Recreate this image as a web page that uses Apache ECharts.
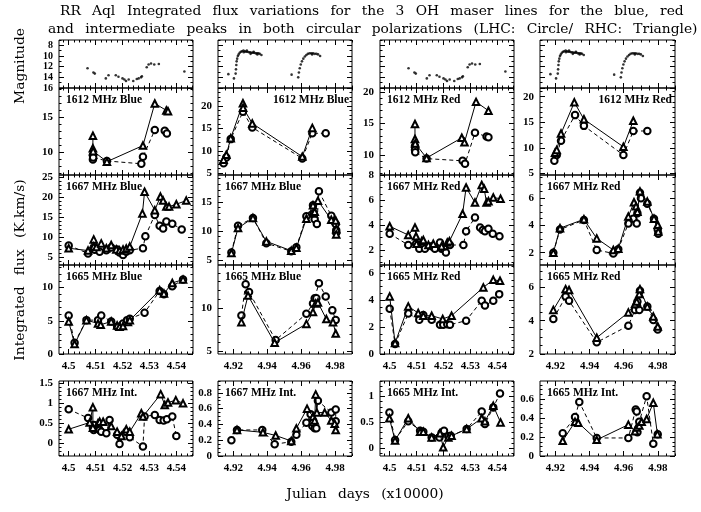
<!DOCTYPE html>
<html><head><meta charset="utf-8">
<script src="https://cdn.jsdelivr.net/npm/echarts@6/dist/echarts.min.js"></script>
<style>html,body{margin:0;padding:0;background:#fff}#c{width:701px;height:512px}</style>
</head><body><div id="c"></div>
<script>
// ---------------- DATA ----------------
const xLabelsA = [4.5, 4.51, 4.52, 4.53, 4.54];
const xLabelsB = [4.92, 4.94, 4.96, 4.98];

// V magnitude (epoch A: JD/1e4 4.50-4.54, epoch B: 4.92-4.98)
const magA = [[4.5070,12.3],[4.5092,13.1],[4.5097,13.3],[4.5138,14.2],[4.5148,13.6],[4.5175,13.6],[4.5185,13.9],[4.5200,14.2],[4.5207,14.4],[4.5213,14.7],[4.5223,14.4],[4.5240,14.7],[4.5253,14.3],[4.5260,14.2],[4.5269,14.0],[4.5272,13.8],[4.5290,12.1],[4.5297,11.6],[4.5306,11.4],[4.5318,11.6],[4.5335,11.5],[4.5430,12.9]];
const magB = [[4.9171,13.4],[4.9204,14.2],[4.9214,13.3],[4.9216,12.5],[4.9218,11.7],[4.9220,11.0],[4.9223,10.5],[4.9227,10.0],[4.9232,9.7],[4.9238,9.4],[4.9245,9.2],[4.9252,9.1],[4.9260,9.0],[4.9262,9.3],[4.9268,9.1],[4.9276,9.2],[4.9280,9.0],[4.9284,9.2],[4.9292,9.3],[4.9300,9.3],[4.9302,9.6],[4.9308,9.4],[4.9316,9.4],[4.9320,9.2],[4.9324,9.4],[4.9332,9.5],[4.9340,9.5],[4.9342,9.7],[4.9348,9.5],[4.9356,9.6],[4.9366,9.8],
  [4.9544,13.5],[4.9583,14.0],[4.9587,13.1],[4.9592,12.3],[4.9598,11.6],[4.9605,11.0],[4.9613,10.5],[4.9622,10.1],[4.9631,9.8],[4.9640,9.6],[4.9650,9.5],[4.9660,9.5],[4.9665,9.7],[4.9670,9.5],[4.9680,9.6],[4.9690,9.6],[4.9700,9.7],[4.9712,10.0]];

// 1612 MHz
const f1612BlueA_lhc = [[4.5090,9.6],[4.5090,9.0],[4.5091,9.3],[4.5142,8.8],[4.5270,8.4],[4.5276,9.4],[4.5320,13.2],[4.5357,13.1],[4.5365,12.7]];
const f1612BlueA_rhc = [[4.5090,12.4],[4.5090,10.6],[4.5091,10.2],[4.5142,8.7],[4.5276,11.0],[4.5320,17.0],[4.5363,16.0],[4.5369,15.9]];
const f1612BlueB_lhc = [[4.9143,7.2],[4.9159,8.5],[4.9185,12.6],[4.9257,18.7],[4.9312,15.2],[4.9607,8.3],[4.9666,13.9],[4.9745,13.9]];
const f1612BlueB_rhc = [[4.9143,8.0],[4.9159,9.1],[4.9185,12.8],[4.9257,20.6],[4.9258,19.6],[4.9312,16.1],[4.9607,8.7],[4.9666,15.1]];
const f1612RedA_lhc = [[4.5094,11.4],[4.5094,10.8],[4.5095,10.4],[4.5137,9.4],[4.5271,9.05],[4.5280,8.6],[4.5317,13.5],[4.5360,12.9],[4.5367,12.8]];
const f1612RedA_rhc = [[4.5094,14.9],[4.5094,12.5],[4.5095,11.8],[4.5137,9.5],[4.5268,12.7],[4.5278,12.0],[4.5321,18.4],[4.5367,17.0]];
const f1612RedB_lhc = [[4.9194,7.5],[4.9208,8.6],[4.9233,11.4],[4.9315,16.4],[4.9367,14.3],[4.9598,8.6],[4.9656,13.3],[4.9738,13.3]];
const f1612RedB_rhc = [[4.9198,9.05],[4.9208,9.6],[4.9233,12.8],[4.9311,18.9],[4.9367,15.6],[4.9598,10.2],[4.9656,15.3]];

// 1667 MHz
const f1667BlueA_lhc = [[4.5000,8.0],[4.5072,6.0],[4.5095,7.5],[4.5097,6.9],[4.5115,6.4],[4.5140,6.8],[4.5158,7.5],[4.5180,7.0],[4.5189,6.2],[4.5202,5.6],[4.5214,6.4],[4.5227,6.8],[4.5276,7.3],[4.5285,10.3],[4.5320,15.6],[4.5338,12.9],[4.5351,12.2],[4.5363,14.0],[4.5385,13.4],[4.5420,12.0]];
const f1667BlueA_rhc = [[4.5000,7.3],[4.5072,6.7],[4.5093,9.5],[4.5093,7.7],[4.5103,7.6],[4.5121,8.5],[4.5140,7.3],[4.5158,8.1],[4.5177,7.0],[4.5189,6.7],[4.5202,7.0],[4.5214,7.2],[4.5227,7.7],[4.5274,16.0],[4.5282,21.4],[4.5320,16.8],[4.5341,20.2],[4.5351,19.2],[4.5363,17.7],[4.5373,17.7],[4.5400,18.3],[4.5437,19.2]];
const f1667BlueB_lhc = [[4.9189,6.3],[4.9228,10.9],[4.9316,12.2],[4.9395,7.9],[4.9542,6.5],[4.9572,7.2],[4.9631,12.5],[4.9670,14.4],[4.9674,13.0],[4.9680,12.0],[4.9693,11.2],[4.9705,16.8],[4.9778,12.6],[4.9804,11.2],[4.9807,10.1],[4.9807,9.7]];
const f1667BlueB_rhc = [[4.9189,6.2],[4.9228,10.5],[4.9316,12.2],[4.9395,8.2],[4.9542,6.6],[4.9572,7.1],[4.9631,12.1],[4.9670,14.4],[4.9674,13.0],[4.9680,13.3],[4.9699,15.2],[4.9778,11.9],[4.9804,11.8],[4.9807,10.3],[4.9807,9.4]];
const f1667RedA_lhc = [[4.5000,3.3],[4.5069,2.4],[4.5098,2.5],[4.5110,2.1],[4.5131,2.1],[4.5156,2.3],[4.5168,2.1],[4.5187,2.6],[4.5193,2.1],[4.5202,2.1],[4.5209,1.8],[4.5224,2.4],[4.5274,2.4],[4.5284,3.5],[4.5317,4.6],[4.5336,3.8],[4.5346,3.6],[4.5354,3.5],[4.5367,3.7],[4.5383,3.3],[4.5408,3.1]];
const f1667RedA_rhc = [[4.5000,3.9],[4.5069,3.2],[4.5094,3.8],[4.5098,3.1],[4.5100,2.5],[4.5119,2.7],[4.5125,2.8],[4.5144,2.4],[4.5162,2.5],[4.5193,2.3],[4.5214,2.6],[4.5222,2.7],[4.5271,4.9],[4.5284,7.0],[4.5317,5.8],[4.5342,7.2],[4.5351,6.9],[4.5360,5.8],[4.5367,5.9],[4.5385,6.2],[4.5412,6.1]];
const f1667RedB_lhc = [[4.9188,2.0],[4.9227,3.7],[4.9367,4.4],[4.9442,2.2],[4.9539,1.95],[4.9568,2.25],[4.9627,4.15],[4.9656,4.5],[4.9676,4.15],[4.9680,4.9],[4.9695,6.4],[4.9701,6.0],[4.9738,5.6],[4.9777,4.5],[4.9799,3.7],[4.9802,3.4]];
const f1667RedB_rhc = [[4.9188,2.0],[4.9227,3.8],[4.9367,4.45],[4.9442,3.05],[4.9539,2.2],[4.9568,2.3],[4.9627,4.65],[4.9660,5.7],[4.9672,5.4],[4.9680,5.0],[4.9695,6.5],[4.9738,5.75],[4.9777,4.5],[4.9799,4.05],[4.9802,3.55]];

// 1665 MHz
const f1665BlueA_lhc = [[4.5000,5.8],[4.5022,1.7],[4.5066,5.1],[4.5109,5.1],[4.5121,5.8],[4.5158,4.9],[4.5180,4.1],[4.5189,4.1],[4.5202,4.6],[4.5217,5.1],[4.5227,5.3],[4.5282,6.2],[4.5338,9.5],[4.5354,9.0],[4.5385,10.2],[4.5425,11.2]];
const f1665BlueA_rhc = [[4.5000,4.9],[4.5022,1.5],[4.5066,5.1],[4.5109,4.6],[4.5119,4.4],[4.5158,4.9],[4.5180,4.3],[4.5189,4.1],[4.5202,4.2],[4.5220,4.8],[4.5227,5.1],[4.5338,9.6],[4.5354,9.1],[4.5385,10.7],[4.5425,11.2]];
const f1665BlueB_lhc = [[4.9248,9.1],[4.9273,12.7],[4.9293,11.8],[4.9450,6.3],[4.9631,9.3],[4.9670,10.5],[4.9680,11.1],[4.9690,11.1],[4.9705,12.8],[4.9745,11.3],[4.9784,9.7],[4.9804,8.6]];
const f1665BlueB_rhc = [[4.9248,8.35],[4.9287,11.4],[4.9444,6.0],[4.9631,8.15],[4.9670,9.5],[4.9686,10.5],[4.9699,10.6],[4.9749,8.7],[4.9788,8.35],[4.9804,7.05]];
const f1665RedA_lhc = [[4.5000,3.36],[4.5020,0.74],[4.5069,3.0],[4.5110,2.54],[4.5125,2.9],[4.5156,2.54],[4.5187,2.17],[4.5199,2.17],[4.5214,2.2],[4.5224,2.17],[4.5284,2.47],[4.5342,3.95],[4.5354,3.6],[4.5385,3.95],[4.5407,4.44]];
const f1665RedA_rhc = [[4.5000,4.27],[4.5020,0.81],[4.5069,3.53],[4.5106,3.04],[4.5125,2.84],[4.5156,2.84],[4.5197,2.6],[4.5230,2.84],[4.5348,4.94],[4.5385,5.5],[4.5410,5.43]];
const f1665RedB_lhc = [[4.9188,4.1],[4.9260,5.45],[4.9280,5.2],[4.9442,2.7],[4.9627,3.7],[4.9666,4.65],[4.9676,4.95],[4.9680,5.15],[4.9691,4.65],[4.9695,5.8],[4.9738,4.85],[4.9773,4.05],[4.9799,3.47]];
const f1665RedB_rhc = [[4.9188,4.65],[4.9260,5.9],[4.9280,5.85],[4.9442,2.98],[4.9627,4.5],[4.9666,5.0],[4.9676,5.15],[4.9691,5.6],[4.9695,5.9],[4.9738,4.85],[4.9773,4.25],[4.9799,3.65]];

// Intermediate peaks
const i1667A_lhc = [[4.5000,0.85],[4.5072,0.63],[4.5090,0.38],[4.5093,0.33],[4.5094,0.46],[4.5115,0.33],[4.5121,0.29],[4.5140,0.25],[4.5152,0.58],[4.5180,0.21],[4.5189,-0.02],[4.5214,0.29],[4.5227,0.15],[4.5276,-0.08],[4.5282,0.67],[4.5320,0.71],[4.5338,0.58],[4.5353,0.57],[4.5365,0.6],[4.5385,0.67],[4.5400,0.18]];
const i1667A_rhc = [[4.5000,0.35],[4.5078,0.52],[4.5090,0.9],[4.5090,0.39],[4.5109,0.5],[4.5115,0.54],[4.5128,0.54],[4.5158,0.43],[4.5180,0.29],[4.5196,0.18],[4.5214,0.35],[4.5227,0.29],[4.5270,0.75],[4.5276,0.67],[4.5342,1.23],[4.5357,0.96],[4.5369,1.02],[4.5398,1.08],[4.5425,1.0]];
const i1667B_lhc = [[4.9189,0.2],[4.9222,0.33],[4.9371,0.33],[4.9444,0.15],[4.9542,0.18],[4.9572,0.27],[4.9631,0.42],[4.9656,0.53],[4.9666,0.38],[4.9670,0.42],[4.9680,0.35],[4.9690,0.35],[4.9699,0.7],[4.9778,0.55],[4.9804,0.59],[4.9804,0.44]];
const i1667B_rhc = [[4.9222,0.33],[4.9375,0.3],[4.9450,0.26],[4.9542,0.19],[4.9572,0.35],[4.9635,0.6],[4.9670,0.5],[4.9680,0.45],[4.9686,0.78],[4.9693,0.55],[4.9739,0.55],[4.9778,0.45],[4.9798,0.41],[4.9804,0.33]];
const i1665A_lhc = [[4.4999,0.69],[4.5020,0.16],[4.5069,0.52],[4.5113,0.34],[4.5125,0.32],[4.5156,0.21],[4.5185,0.21],[4.5193,0.3],[4.5202,0.34],[4.5218,0.23],[4.5227,0.24],[4.5286,0.37],[4.5342,0.71],[4.5354,0.47],[4.5385,0.79],[4.5410,1.06]];
const i1665A_rhc = [[4.4999,0.58],[4.5020,0.15],[4.5069,0.58],[4.5113,0.32],[4.5125,0.32],[4.5156,0.21],[4.5187,0.29],[4.5199,0.02],[4.5218,0.21],[4.5230,0.24],[4.5286,0.37],[4.5342,0.58],[4.5354,0.52],[4.5385,0.82],[4.5412,0.5]];
const i1665B_lhc = [[4.9243,0.24],[4.9315,0.41],[4.9340,0.57],[4.9442,0.19],[4.9627,0.19],[4.9670,0.49],[4.9676,0.47],[4.9680,0.25],[4.9691,0.36],[4.9734,0.63],[4.9773,0.13],[4.9799,0.23]];
const i1665B_rhc = [[4.9243,0.16],[4.9315,0.36],[4.9334,0.35],[4.9442,0.17],[4.9627,0.33],[4.9666,0.26],[4.9676,0.3],[4.9691,0.32],[4.9705,0.36],[4.9734,0.39],[4.9773,0.56],[4.9797,0.23]];

// y tick labels per panel
const yLabMag = [8, 10, 12, 14, 16];
const yLab = {
  r1: [[10,15],[5,10,15,20],[10,15,20],[5,10,15,20]],
  r2: [[5,10,15,20,25],[5,10,15],[2,4,6,8],[2,4,6]],
  r3: [[0,5,10],[5,10],[0,2,4,6],[2,4,6]],
  r4: [[0,0.5,1,1.5],[0,0.2,0.4,0.6,0.8],[0,0.5,1],[0,0.2,0.4,0.6]]
};

// ---------------- LAYOUT / STYLE ----------------
const COLS = [[59,193],[218,352],[380,514],[540,675]];
const ROWS = [[40,88],[88,175],[175,265],[265,354],[381,456]];
const XR = [
  {min:4.4964, max:4.5462, major:0.01, minor:0.002, labels:xLabelsA},
  {min:4.911,  max:4.990,  major:0.02, minor:0.005, labels:xLabelsB}
];
const FONT = 'Liberation Serif';
const BIG = 'DejaVu Serif';

function rng(min, max, step){
  const out=[]; const s=Math.ceil(min/step-1e-9);
  for(let k=s; k*step<=max+1e-9; k++) out.push(+(k*step).toFixed(6));
  return out;
}
const fmt = v => String(+(+v).toFixed(4));

const panels = [];
for(let c=0;c<4;c++) panels.push({row:0,col:c,ymin:7,ymax:16,major:2,minor:1,inv:true,split:true,fs:10,
  labels:c===0?yLabMag:null,mag:(c%2===0)?magA:magB});
const rowDefs = [
  {row:1, names:['1612 MHz Blue','1612 MHz Blue','1612 MHz Red','1612 MHz Red'], rightLab:[false,true,false,true],
   rng:[[6.8,19.2,5,1],[4.6,24,5,1],[6.8,20.6,5,1],[4.7,21.7,5,1]], labs:yLab.r1,
   data:[[f1612BlueA_lhc,f1612BlueA_rhc],[f1612BlueB_lhc,f1612BlueB_rhc],[f1612RedA_lhc,f1612RedA_rhc],[f1612RedB_lhc,f1612RedB_rhc]]},
  {row:2, names:['1667 MHz Blue','1667 MHz Blue','1667 MHz Red','1667 MHz Red'], rightLab:[false,false,false,false],
   rng:[[3.1,25.6,5,1],[4.15,19.6,5,1],[0.8,8,2,0.5],[1.1,7.7,2,0.5]], labs:yLab.r2,
   data:[[f1667BlueA_lhc,f1667BlueA_rhc],[f1667BlueB_lhc,f1667BlueB_rhc],[f1667RedA_lhc,f1667RedA_rhc],[f1667RedB_lhc,f1667RedB_rhc]]},
  {row:3, names:['1665 MHz Blue','1665 MHz Blue','1665 MHz Red','1665 MHz Red'], rightLab:[false,false,false,false],
   rng:[[0,13.4,5,1],[4.7,14.9,5,1],[0,6.6,2,0.5],[2,7.35,2,0.5]], labs:yLab.r3,
   data:[[f1665BlueA_lhc,f1665BlueA_rhc],[f1665BlueB_lhc,f1665BlueB_rhc],[f1665RedA_lhc,f1665RedA_rhc],[f1665RedB_lhc,f1665RedB_rhc]]},
  {row:4, names:['1667 MHz Int.','1667 MHz Int.','1665 MHz Int.','1665 MHz Int.'], rightLab:[false,false,false,false],
   rng:[[-0.32,1.56,0.5,0.1],[0,0.95,0.2,0.05],[-0.15,1.3,0.5,0.1],[0,0.79,0.2,0.05]], labs:yLab.r4,
   data:[[i1667A_lhc,i1667A_rhc],[i1667B_lhc,i1667B_rhc],[i1665A_lhc,i1665A_rhc],[i1665B_lhc,i1665B_rhc]]}
];
rowDefs.forEach(rd=>{
  for(let c=0;c<4;c++){
    const r=rd.rng[c];
    panels.push({row:rd.row,col:c,ymin:r[0],ymax:r[1],major:r[2],minor:r[3],inv:false,split:false,fs:11,labels:rd.labs[c],
      name:rd.names[c], right:rd.rightLab[c], lhc:rd.data[c][0], rhc:rd.data[c][1]});
  }
});

const grid=[], xAxis=[], yAxis=[], series=[], graphic=[];
const tickLine = {color:'#000', width:1};
const labStyle = fs => ({fontFamily:FONT, fontWeight:'bold', fontSize:fs, color:'#000', interval:0, hideOverlap:false,
                  showMinLabel:true, showMaxLabel:true});

panels.forEach((p,i)=>{
  const [x0,x1]=COLS[p.col], [y0,y1]=ROWS[p.row];
  grid.push({left:x0, top:y0, width:x1-x0, height:y1-y0, show:true, borderColor:'#000', borderWidth:1,
    backgroundColor:'transparent', containLabel:false, outerBoundsMode:'none'});
  const xr = XR[p.col%2];
  const showX = p.row>=3;
  const mkX=(pos,ticks,len,labels)=>({gridIndex:i,type:'value',position:pos,min:xr.min,max:xr.max,
    axisLine:{show:false,onZero:false},splitLine:{show:false},
    axisTick:{show:true,inside:true,length:len,interval:0,customValues:ticks,lineStyle:tickLine},
    axisLabel: labels?Object.assign({show:true,customValues:labels,formatter:fmt,margin:7},labStyle(11)):{show:false}});
  const xb=xAxis.length;
  xAxis.push(mkX('bottom',rng(xr.min,xr.max,xr.major),5,showX?xr.labels:null));
  xAxis.push(mkX('bottom',rng(xr.min,xr.max,xr.minor),2.5,null));
  xAxis.push(mkX('top',rng(xr.min,xr.max,xr.major),5,null));
  xAxis.push(mkX('top',rng(xr.min,xr.max,xr.minor),2.5,null));
  const mkY=(pos,ticks,len,labels)=>({gridIndex:i,type:'value',position:pos,min:p.ymin,max:p.ymax,inverse:p.inv,
    axisLine:{show:false,onZero:false},splitLine:{show:false},
    axisTick:{show:true,inside:true,length:len,interval:0,customValues:ticks,lineStyle:tickLine},
    axisLabel: (labels&&labels.length)?Object.assign({show:true,customValues:labels,formatter:fmt,margin:6},labStyle(p.fs)):{show:false}});
  // dense label sets are shared between two overlapping axes so none is dropped
  let labA=p.labels, labB=null;
  if(p.labels && p.split){ labA=p.labels.filter((v,k)=>k%2===0); labB=p.labels.filter((v,k)=>k%2===1); }
  const yb=yAxis.length;
  yAxis.push(mkY('left',rng(p.ymin,p.ymax,p.major),5,labA));
  yAxis.push(mkY('left',rng(p.ymin,p.ymax,p.minor),2.5,labB));
  yAxis.push(mkY('right',rng(p.ymin,p.ymax,p.major),5,null));
  yAxis.push(mkY('right',rng(p.ymin,p.ymax,p.minor),2.5,null));

  if(p.mag){
    series.push({type:'scatter',xAxisIndex:xb,yAxisIndex:yb,data:p.mag,symbol:'circle',symbolSize:2.6,
      itemStyle:{color:'#000'},silent:true,animation:false});
  } else {
    series.push({type:'line',xAxisIndex:xb,yAxisIndex:yb,data:p.lhc,symbol:'emptyCircle',symbolSize:6.5,
      showAllSymbol:true,lineStyle:{color:'#000',width:1,type:[4,3]},itemStyle:{color:'#000',borderWidth:1},
      silent:true,animation:false,z:3});
    series.push({type:'line',xAxisIndex:xb,yAxisIndex:yb,data:p.rhc,symbol:'emptyTriangle',symbolSize:6.5,
      showAllSymbol:true,lineStyle:{color:'#000',width:1},itemStyle:{color:'#000',borderWidth:1},
      silent:true,animation:false,z:4});
    graphic.push({type:'text',x:p.right?x1-3:x0+7,y:y0+12,z:10,silent:true,
      style:{text:p.name,fill:'#000',font:'bold 11.5px "'+FONT+'"',align:p.right?'right':'left',verticalAlign:'middle',
             textAlign:p.right?'right':'left',textVerticalAlign:'middle'}});
  }
});

// large labels: narrow glyphs with wide word gaps (as in the original plot font)
const bigFont = '13.8px "'+BIG+'"';
const wide = s => s.replace(/ /g, ' \u2002');
function txt(s,x,y){ return {type:'text',x:x,y:y,silent:true,
  style:{text:wide(s),fill:'#000',font:bigFont,align:'left',verticalAlign:'middle',textAlign:'left',textVerticalAlign:'middle'}}; }
graphic.push(txt('RR Aql',60,11));
graphic.push(txt('Integrated flux variations for the 3 OH maser lines for the blue, red',127,11));
graphic.push(txt('and intermediate peaks in both circular polarizations (LHC: Circle/ RHC: Triangle)',48,29));
function ctxt(s,x,y,rot){ return {type:'text',x:x,y:y,rotation:rot||0,silent:true,
  style:{text:wide(s),fill:'#000',font:bigFont,align:'center',verticalAlign:'middle',textAlign:'center',textVerticalAlign:'middle'}}; }
graphic.push(ctxt('Magnitude',20,66,Math.PI/2));
graphic.push(ctxt('Integrated flux (K.km/s)',20,270,Math.PI/2));
graphic.push(ctxt('Julian days (x10000)',365,494,0));

const chart = echarts.init(document.getElementById('c'), null, {renderer:'canvas'});
chart.setOption({backgroundColor:'#fff',animation:false,grid,xAxis,yAxis,series,graphic});
</script></body></html>
